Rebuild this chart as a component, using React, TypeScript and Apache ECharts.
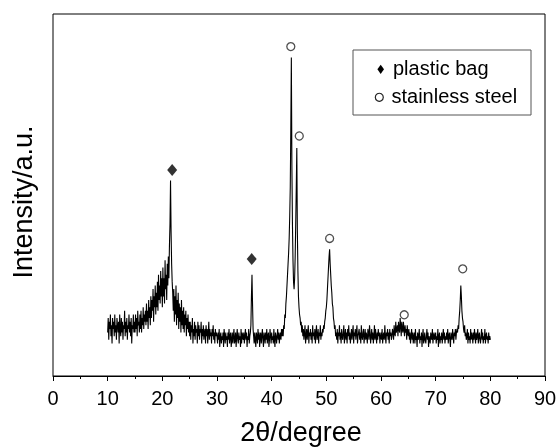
import React, { useEffect, useRef } from 'react';
import * as echarts from 'echarts';

const FONT = '"Liberation Sans", Arial, Helvetica, sans-serif';
const STEP = 0.1; // degrees between sampled points

// Intensity (arbitrary units, 0 = axis, 100 = top of frame), 0.1° apart
const seg10 = [12,16,10,15,13,17,11,14,9,16, 13,15,11,17,12,14,10,16,14,12, 15,9,17,13,11,16,12,15,10,14, 13,18,11,15,12,16,10,14,13,17, 12,15,11,16,9,14,13,17,12,15];
const seg15 = [12,17,13,16,11,18,14,15,12,17, 13,18,12,16,14,19,13,17,15,18, 14,20,15,18,13,21,16,19,14,22, 16,21,18,24,15,22,19,25,17,23, 19,26,18,28,21,25,20,29,22,27];
const seg20 = [19,30,22,27,20,32,24,28,21,31, 25,33,27,36,42,54,40,31,26,23, 18,24,15,22,17,25,14,21,16,23, 13,20,15,19,12,21,14,18,13,19, 12,17,14,18,11,16,13,17,12,15];
const seg25 = [11,15,10,14,12,16,9,13,11,15, 10,14,12,13,9,15,11,14,10,13, 12,15,9,13,11,14,10,12,13,9, 14,11,13,9,12,15,10,13,11,12, 9,13,11,14,10,12,9,13,11,12];
const seg30 = [11,9,12,10,13,8,11,12,9,11, 10,12,8,13,11,9,12,10,11,8, 12,10,13,9,11,12,8,10,12,9, 11,13,9,10,12,8,11,13,10,9, 12,10,11,8,13,9,12,11,10,12];
const seg35 = [9,11,13,10,12,8,11,10,13,9, 11,12,14,22,28,20,13,11,9,12, 10,8,12,11,9,13,10,12,8,11, 12,9,11,13,10,8,12,11,9,12, 10,13,9,11,12,8,10,13,11,9];
const seg40 = [12,10,11,9,13,10,8,12,11,9, 11,13,10,12,9,11,12,10,13,11, 13,11,14,13,17,16,20,22,25,28, 31,34,38,44,52,68,88,58,42,32, 26,24,27,33,42,52,63,40,29,22];
const seg45 = [19,17,16,14,15,12,14,11,13,10, 12,14,9,11,13,10,12,14,9,12, 11,13,10,12,9,14,11,12,10,13, 9,12,14,10,11,13,9,12,11,14, 10,12,11,13,12,14,13,15,16,18];
const seg50 = [19,21,24,27,30,33,35,31,28,25, 23,20,19,16,15,13,14,11,12,10, 13,9,12,11,14,10,12,9,13,11, 10,12,14,9,11,13,10,12,9,13, 11,14,10,12,9,11,13,10,12,14];
const seg55 = [9,12,11,13,10,12,14,9,11,12, 13,10,12,9,14,11,10,12,13,9, 11,13,10,12,11,9,13,12,10,14, 12,9,11,13,10,12,9,11,14,10, 13,11,9,12,10,13,11,12,9,11];
const seg60 = [12,10,13,9,11,12,10,14,11,9, 12,11,13,10,12,9,13,11,12,10, 11,13,12,10,14,12,11,15,12,13, 14,11,15,13,12,16,14,11,15,13, 12,15,13,11,14,12,13,10,14,12];
const seg65 = [11,13,10,12,9,11,13,10,12,9, 11,12,9,13,10,11,8,12,10,11, 13,9,11,10,12,8,11,13,9,10, 12,10,9,11,13,10,12,8,11,10, 9,12,11,10,13,9,11,12,10,11];
const seg70 = [12,9,11,10,13,8,11,12,9,11, 10,12,9,11,13,10,12,9,11,10, 12,10,13,9,11,12,10,8,12,11, 10,13,11,9,12,11,13,10,12,13, 12,14,13,16,18,21,25,22,18,16];
const seg75 = [15,13,12,14,11,12,10,11,13,9, 12,10,11,9,13,10,12,11,9,12, 10,13,11,9,12,10,11,13,9,11, 12,10,9,11,13,10,12,9,11,10, 13,9,11,12,10,11,9,12,10,11, 10];

const segmentStarts = [10, 15, 20, 25, 30, 35, 40, 45, 50, 55, 60, 65, 70, 75];
const segments = [seg10, seg15, seg20, seg25, seg30, seg35, seg40, seg45, seg50, seg55, seg60, seg65, seg70, seg75];

// Peak markers [2θ, intensity]
const plasticBagPeaks = [[21.8, 56.9], [36.35, 32.3]];
const stainlessSteelPeaks = [[43.5, 91.0], [45.05, 66.3], [50.6, 38.0], [64.25, 16.9], [74.95, 29.6]];

const legendNames = ['plastic bag', 'stainless steel'];
const xTitle = '2θ/degree';
const yTitle = 'Intensity/a.u.';

export default function App() {
  const ref = useRef<HTMLDivElement>(null);
  useEffect(() => {
    const chart = echarts.init(ref.current!, null, { renderer: 'svg' });
    const trace: number[][] = [];
    segments.forEach((vals, s) => {
      vals.forEach((v, i) => {
        trace.push([+(segmentStarts[s] + i * STEP).toFixed(1), v]);
      });
    });
    chart.setOption({
      animation: false,
      textStyle: { fontFamily: FONT },
      grid: { left: 53, right: 15, top: 14, bottom: 72, show: true, borderColor: '#000', borderWidth: 1, backgroundColor: 'transparent' },
      xAxis: {
        type: 'value', min: 0, max: 90, interval: 10,
        axisLine: { show: true, onZero: false, lineStyle: { color: '#000', width: 1 } },
        axisTick: { show: true, length: 5, lineStyle: { color: '#000', width: 1 } },
        minorTick: { show: true, splitNumber: 2, length: 3, lineStyle: { color: '#000', width: 1 } },
        axisLabel: { color: '#000', fontSize: 20, margin: 12, fontFamily: FONT },
        splitLine: { show: false },
      },
      yAxis: { type: 'value', min: 0, max: 100, show: false },
      series: [
        { type: 'line', data: trace, showSymbol: false, symbol: 'none', silent: true, z: 2,
          lineStyle: { color: '#000', width: 1.1 } },
        { type: 'scatter', name: legendNames[0], data: plasticBagPeaks, symbol: 'diamond', symbolSize: [10, 12], z: 3,
          itemStyle: { color: '#000' } },
        { type: 'scatter', name: legendNames[1], data: stainlessSteelPeaks, symbol: 'circle', symbolSize: 8, z: 3,
          itemStyle: { color: '#fff', borderColor: '#222', borderWidth: 1.3 } },
      ],
      graphic: [
        { type: 'text', x: 301, y: 432, style: { text: xTitle, fontSize: 27, fontFamily: FONT, fill: '#000', align: 'center', verticalAlign: 'middle' } },
        { type: 'text', x: 23, y: 202, rotation: Math.PI / 2, style: { text: yTitle, fontSize: 27, fontFamily: FONT, fill: '#000', align: 'center', verticalAlign: 'middle' } },
        { type: 'rect', shape: { x: 353, y: 50, width: 178, height: 65 }, style: { fill: 'none', stroke: '#555', lineWidth: 1 } },
        { type: 'polygon', shape: { points: [[380.7, 64.7], [384, 69.3], [380.7, 74], [377.4, 69.3]] }, style: { fill: '#000' } },
        { type: 'circle', shape: { cx: 379.3, cy: 97.3, r: 4 }, style: { fill: 'none', stroke: '#222', lineWidth: 1.2 } },
        { type: 'text', x: 393, y: 68, style: { text: legendNames[0], fontSize: 20, fontFamily: FONT, fill: '#000', align: 'left', verticalAlign: 'middle' } },
        { type: 'text', x: 391.5, y: 96.4, style: { text: legendNames[1], fontSize: 20, fontFamily: FONT, fill: '#000', align: 'left', verticalAlign: 'middle' } },
      ],
    });
    return () => chart.dispose();
  }, []);
  return <div ref={ref} style={{ position: 'fixed', left: 0, top: 0, width: 560, height: 448 }} />;
}
